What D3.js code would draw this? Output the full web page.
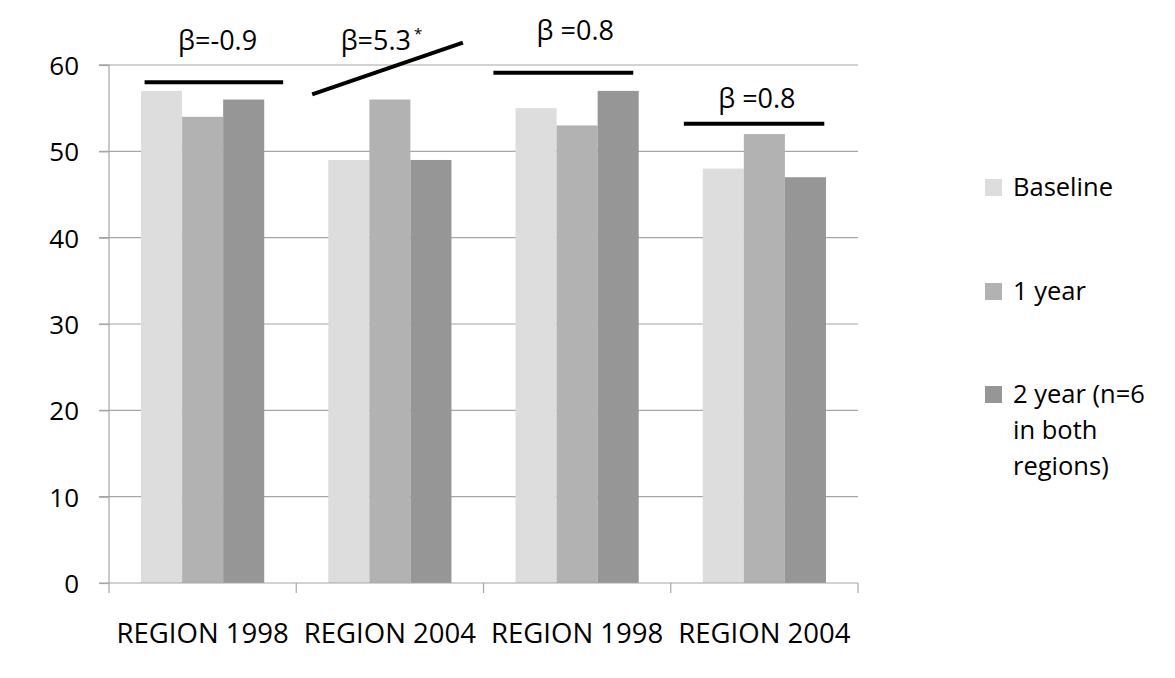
<!DOCTYPE html>
<html><head><meta charset="utf-8">
<script src="https://cdn.jsdelivr.net/npm/d3@7"></script>
<style>
body{margin:0;background:#fff;}
text{font-family:"Open Sans",sans-serif;fill:#000;}
</style></head>
<body><svg id="c" width="1175" height="678"></svg>
<script>
const categories = ["REGION 1998","REGION 2004","REGION 1998","REGION 2004"];
const seriesNames = ["Baseline","1 year","2 year (n=6 in both regions)"];
const legendLines = [["Baseline"],["1 year"],["2 year (n=6","in both","regions)"]];
const baseline = [57,49,55,48];
const year1 = [54,56,53,52];
const year2 = [56,49,57,47];
const yTicks = [0,10,20,30,40,50,60];
const colors = ["#dddddd","#b2b2b2","#969696"];
// trend annotations: category index, fractional x within category, y values
const trendCat = [0,1,2,3];
const trendX0 = [0.19,0.085,0.053,0.07];
const trendX1 = [0.93,0.89,0.80,0.82];
const trendY0 = [58,56.6,59.1,53.2];
const trendY1 = [58,62.6,59.1,53.2];
const betaLabels = ["β=-0.9","β=5.3","β =0.8","β =0.8"];
const betaStar = [false,true,false,false];
const betaX = [0.58,0.455,0.49,0.46];
const betaY = [61.7,61.7,62.9,55.0];

const svg = d3.select("#c");
const L=109, R=858, T=65, B=583;
const x = d3.scaleBand().domain(d3.range(categories.length)).range([L,R]);
const xs = d3.scaleBand().domain(d3.range(3)).range([0,x.bandwidth()]).paddingInner(0).paddingOuter(0.78);
const y = d3.scaleLinear().domain([0,60]).range([B,T]);
const values = [baseline,year1,year2];

// gridlines
svg.append("g").selectAll("line").data(yTicks.filter(d=>d>0)).join("line")
  .attr("x1",L-10).attr("x2",R).attr("y1",d=>y(d)).attr("y2",d=>y(d))
  .attr("stroke","#a6a6a6").attr("stroke-width",1.2);

// bars
const g = svg.append("g");
categories.forEach((c,i)=>{
  values.forEach((vals,s)=>{
    g.append("rect").attr("x",x(i)+xs(s)).attr("width",xs.bandwidth())
      .attr("y",y(vals[i])).attr("height",y(0)-y(vals[i])).attr("fill",colors[s]);
  });
});

// y axis
const ya = svg.append("g").attr("transform",`translate(${L},0)`)
  .call(d3.axisLeft(y).tickValues(yTicks).tickSize(10).tickPadding(20));
ya.select(".domain").attr("stroke","#a6a6a6").attr("stroke-width",1.2).attr("d",`M-10,${T}H0V${B}`);
ya.selectAll(".tick line").attr("stroke","#a6a6a6").attr("stroke-width",1.2);
ya.selectAll(".tick text").style("font-size","26px").attr("fill","#000").attr("dy","0.36em");

// x axis
const xa = svg.append("g").attr("transform",`translate(0,${B})`)
  .call(d3.axisBottom(x).tickFormat(i=>categories[i]).tickSize(0).tickPadding(60));
xa.select(".domain").remove();
xa.selectAll(".tick text").style("font-size","27.5px").attr("fill","#000").attr("dy","0");
const bounds = d3.range(categories.length+1).map(i=> i<categories.length ? x(i) : x(i-1)+x.bandwidth());
xa.append("line").attr("x1",L-10).attr("x2",R).attr("y1",0).attr("y2",0).attr("stroke","#a6a6a6").attr("stroke-width",1.2);
xa.selectAll(".bt").data(bounds).join("line").attr("class","bt")
  .attr("x1",d=>d).attr("x2",d=>d).attr("y1",0).attr("y2",10).attr("stroke","#a6a6a6").attr("stroke-width",1.2);

// trend lines
svg.append("g").selectAll("line").data(trendCat).join("line")
  .attr("x1",(c,k)=>x(c)+trendX0[k]*x.bandwidth())
  .attr("x2",(c,k)=>x(c)+trendX1[k]*x.bandwidth())
  .attr("y1",(c,k)=>y(trendY0[k])).attr("y2",(c,k)=>y(trendY1[k]))
  .attr("stroke","#000").attr("stroke-width",4);

// beta labels
const bl = svg.append("g").selectAll("text").data(trendCat).join("text")
  .attr("x",(c,k)=>x(c)+betaX[k]*x.bandwidth()).attr("y",(c,k)=>y(betaY[k]))
  .attr("text-anchor","middle").style("font-size","27px");
bl.each(function(c,k){
  const t=d3.select(this);
  t.append("tspan").text(betaLabels[k]);
  if(betaStar[k]) t.append("tspan").text("*").attr("dy","-0.75em").attr("dx","3").style("font-size","15px");
});

// legend
const lg = svg.append("g");
const rowY = [196,300,403];
legendLines.forEach((lines,k)=>{
  lg.append("rect").attr("x",985).attr("y",rowY[k]-17).attr("width",17).attr("height",17).attr("fill",colors[k]);
  const t = lg.append("text").attr("x",1013).attr("y",rowY[k]).style("font-size","25.5px");
  lines.forEach((ln,j)=> t.append("tspan").attr("x",1013).attr("dy", j===0?0:"1.42em").text(ln));
});
</script></body></html>
